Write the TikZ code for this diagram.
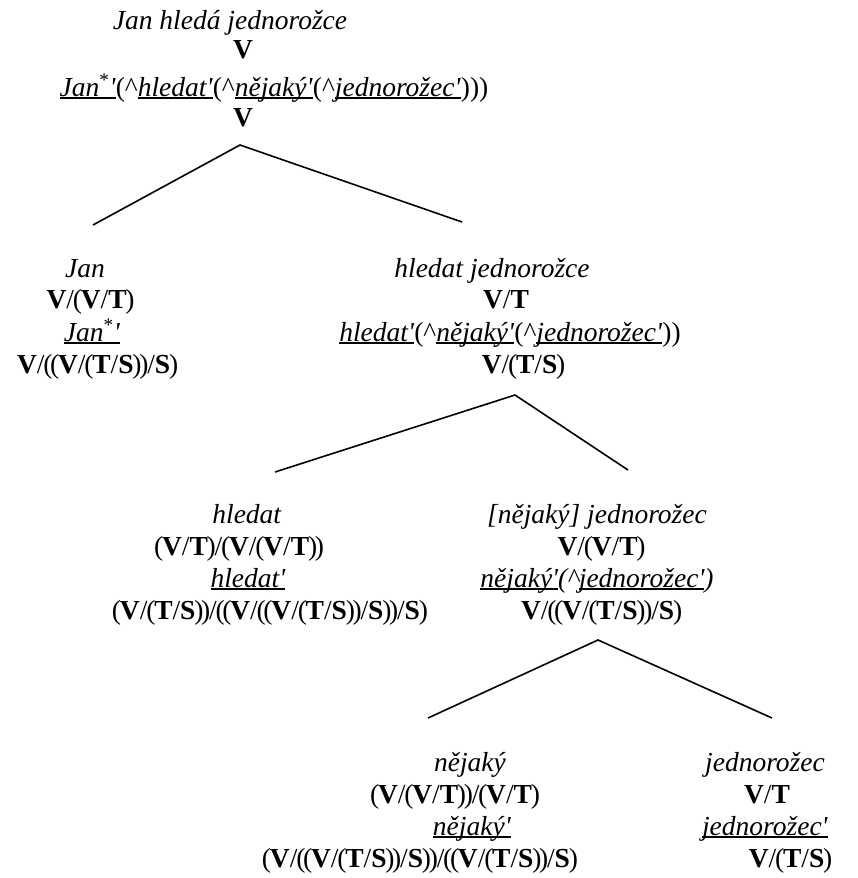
\documentclass[tikz,border=0pt]{standalone}
\usepackage{fontspec}
\setmainfont{Liberation Serif}
\newsavebox{\ulbox}
% underline at a fixed depth below the baseline
\newcommand{\ulw}[1]{\sbox{\ulbox}{#1}\rlap{\rule[-0.12em]{\wd\ulbox}{0.07em}}\usebox{\ulbox}}
\newcommand{\pr}{\textquotesingle}
\newcommand{\crt}{\textasciicircum}
\newcommand{\cV}{\textbf{V}}
\newcommand{\cT}{\textbf{T}}
\newcommand{\cS}{\textbf{S}}
% tightly set parentheses for the category strings
\newcommand{\lp}{\kern-0.043em(\kern-0.043em}
\newcommand{\rp}{\kern-0.043em)\kern-0.043em}
\begin{document}
\begin{tikzpicture}[x=1pt,y=-1pt,
  lbl/.style={inner sep=0pt, anchor=base, font=\fontsize{27.5}{32}\selectfont},
  branch/.style={line width=1.6pt}]
\useasboundingbox (0,0) rectangle (857,878);

% root
\node[lbl] (r1) at (230,29) {\textit{Jan hledá jednorožce}};
\node[lbl] (r2) at (243,58) {\cV};
\node[lbl] (r3) at (274,96) {\ulw{\textit{Jan}\textsuperscript{*}\textit{\pr}}(\crt\ulw{\textit{hledat\pr}}(\crt\ulw{\textit{nějaký\pr}}(\crt\ulw{\textit{jednorožec\pr}})))};
\node[lbl] (r4) at (243,126) {\cV};

% Jan
\node[lbl] (a1) at (85,277) {\textit{Jan}};
\node[lbl] (a2) at (90,308) {\cV/\lp\cV/\cT\rp};
\node[lbl] (a3) at (92,341) {\ulw{\textit{Jan}\textsuperscript{*}\textit{\pr}}};
\node[lbl] (a4) at (97,373) {\cV/\lp\lp\cV/\lp\cT/\cS\rp\rp/\cS\rp};

% hledat jednorozce
\node[lbl] (b1) at (492,277) {\textit{hledat jednorožce}};
\node[lbl] (b2) at (506,308) {\cV/\cT};
\node[lbl] (b3) at (510,341) {\ulw{\textit{hledat\pr}}(\crt\ulw{\textit{nějaký\pr}}(\crt\ulw{\textit{jednorožec\pr}}))};
\node[lbl] (b4) at (523,373) {\cV/\lp\cT/\cS\rp};

% hledat
\node[lbl] (c1) at (247,523) {\textit{hledat}};
\node[lbl] (c2) at (239,555) {\lp\cV/\cT\rp/\lp\cV/\lp\cV/\cT\rp\rp};
\node[lbl] (c3) at (248,587) {\ulw{\textit{hledat\pr}}};
\node[lbl] (c4) at (270,619) {\lp\cV/\lp\cT/\cS\rp\rp/\lp\lp\cV/\lp\lp\cV/\lp\cT/\cS\rp\rp/\cS\rp\rp/\cS\rp};

% [nejaky] jednorozec
\node[lbl] (d1) at (597,523) {\textit{[nějaký] jednorožec}};
\node[lbl] (d2) at (601,555) {\cV/\lp\cV/\cT\rp};
\node[lbl] (d3) at (597,587) {\textit{\ulw{nějaký\pr}(\crt\ulw{jednorožec\pr})}};
\node[lbl] (d4) at (601,619) {\cV/\lp\lp\cV/\lp\cT/\cS\rp\rp/\cS\rp};

% nejaky
\node[lbl] (e1) at (470,771) {\textit{nějaký}};
\node[lbl] (e2) at (455,803) {\lp\cV/\lp\cV/\cT\rp\rp/\lp\cV/\cT\rp};
\node[lbl] (e3) at (472,835) {\ulw{\textit{nějaký\pr}}};
\node[lbl] (e4) at (420,867) {\lp\cV/\lp\lp\cV/\lp\cT/\cS\rp\rp/\cS\rp\rp/\lp\lp\cV/\lp\cT/\cS\rp\rp/\cS\rp};

% jednorozec
\node[lbl] (f1) at (765,771) {\textit{jednorožec}};
\node[lbl] (f2) at (767,803) {\cV/\cT};
\node[lbl] (f3) at (765,835) {\ulw{\textit{jednorožec\pr}}};
\node[lbl] (f4) at (790,867) {\cV/\lp\cT/\cS\rp};

% branch points
\coordinate (rt) at (240,145);
\coordinate (ra) at (93,225);
\coordinate (rb) at (462,222);
\coordinate (bt) at (515,395);
\coordinate (bc) at (275,472);
\coordinate (bd) at (628,470);
\coordinate (dt) at (598,640);
\coordinate (de) at (428,718);
\coordinate (df) at (772,718);

\draw[branch] (ra) -- (rt) -- (rb);
\draw[branch] (bc) -- (bt) -- (bd);
\draw[branch] (de) -- (dt) -- (df);
\end{tikzpicture}
\end{document}
